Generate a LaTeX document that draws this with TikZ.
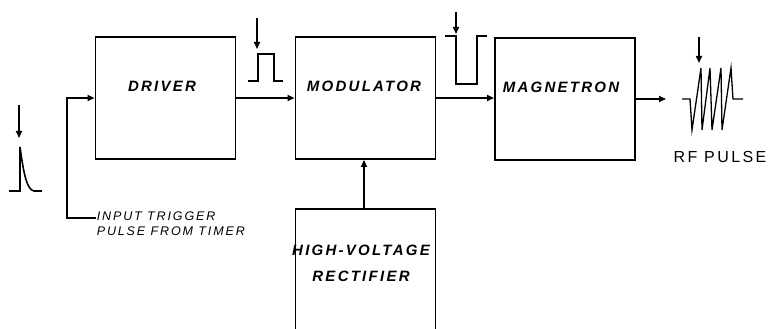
\documentclass[tikz,border=0pt]{standalone}
\usepackage{fontspec}
\setmainfont{Liberation Sans}
\newfontfamily\lettering[LetterSpace=15]{Liberation Sans}
\usetikzlibrary{arrows.meta}

\begin{document}
\begin{tikzpicture}[
                x=1pt, y=-1pt,
                block/.style={
                  draw,
                  line width=1.9pt,
                  minimum width=140pt,
                  minimum height=122pt,
                  inner sep=0pt,
                },
                blocktext/.style={
                  font=\lettering\fontsize{15}{26}\selectfont\bfseries\itshape,
                  align=center,
                  inner sep=0pt,
                },
                note/.style={
                  font=\lettering\fontsize{12.5}{15}\selectfont\itshape,
                  align=left,
                  inner sep=0pt,
                },
                line width=1.6pt,
                >={Triangle[length=7pt,width=6pt]},
              ]
              \clip (0,0) rectangle (772,329) ;
              % blocks
              \node[block] (driver) at (165.5,98) {} ;
              \node[block] (modulator) at (365.5,98) {} ;
              \node[block] (magnetron) at (565,99) {} ;
              \node[block, minimum height=124pt] (rectifier) at (365.5,271) {} ;
              \node[blocktext] (drivertext) at (162,86) {DRIVER} ;
              \node[blocktext] (modtext) at (364,86) {MODULATOR} ;
              \node[blocktext] (magtext) at (561,87) {MAGNETRON} ;
              \node[blocktext] (rectext) at (361,263) {HIGH-VOLTAGE\\RECTIFIER} ;
              \node[note, anchor=west] (trigger) at (96,224) {INPUT TRIGGER\\PULSE FROM TIMER} ;
              \node[inner sep=0pt, font=\lettering\fontsize{16}{18}\selectfont]
                (rfpulse) at (720,157) {RF PULSE} ;
              \coordinate (rfout) at (666,99) ;
              % connectors
              \draw[->] (trigger.west |- 0,218) -- (67,218) |- (driver.west) ;
              \draw[->] (driver.east) -- (modulator.west) ;
              \draw[->] (modulator.east) -- (magnetron.west |- modulator.east) ;
              \draw[->] (rectifier.north -| 364,0) -- (modulator.south -| 364,0) ;
              \draw[->] (magnetron.east) -- (rfout) ;
              % waveforms
              \draw[->] (19,105) -- (19,138) ;
              \draw (9,191) -- (20,191) -- (20,147) .. controls (23,168) and (26,190) .. (34,191) -- (42,191) ;
              \draw[->] (257,18) -- (257,49) ;
              \draw (248,81) -- (258,81) -- (258,54) -- (274,54) -- (274,81) -- (283,81) ;
              \draw[->] (456,12) -- (456,34) ;
              \draw (445,36) -- (456,36) -- (456,84) -- (477,84) -- (477,36) -- (487,36) ;
              \draw[->] (699,37) -- (699,63) ;
              \draw[line width=1.3pt] (682,99) -- (690,99) -- (692,130) -- (701,68) -- (702,130) -- (710,68)
                -- (712,130) -- (721,68) -- (722,130) -- (731,68) -- (733,99) -- (743,99) ;
              \end{tikzpicture}
\end{document}
